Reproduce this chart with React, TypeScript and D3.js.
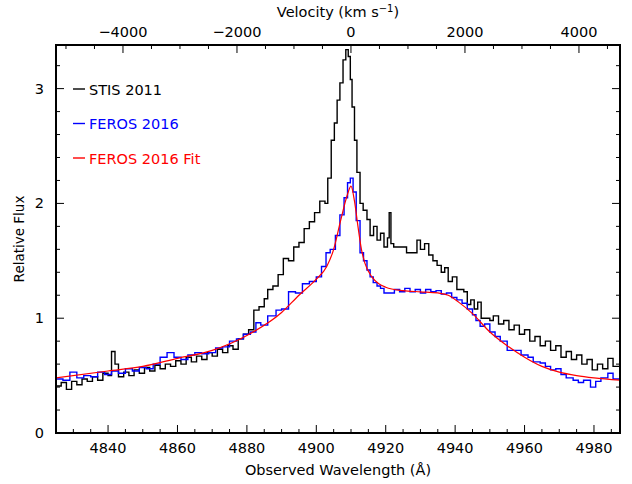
import * as d3 from "d3";

const W = 632;
const H = 484;
const margin = { left: 56, right: 12, top: 45, bottom: 51 };

const lamDomain: [number, number] = [4825, 4987.5];
const velDomain: [number, number] = [-5175, 4720];
const fluxDomain: [number, number] = [0, 3.38];

const xTicks = [4840, 4860, 4880, 4900, 4920, 4940, 4960, 4980];
const vTicks = [-4000, -2000, 0, 2000, 4000];
const yTicks = [0, 1, 2, 3];

// STIS 2011 [wavelength, flux]
const stis: [number, number][] = [
  [4825, 0.41], [4826.5, 0.44], [4828, 0.38], [4829.5, 0.45], [4831, 0.42], [4832.5, 0.47],
  [4834, 0.45], [4835.5, 0.49], [4837, 0.46], [4838.5, 0.52], [4840, 0.5], [4841, 0.71],
  [4842, 0.6], [4843, 0.49], [4844.5, 0.53], [4846, 0.5], [4847.5, 0.55], [4849, 0.52],
  [4850.5, 0.57], [4852, 0.54], [4853.5, 0.59], [4855, 0.56], [4856.5, 0.6], [4858, 0.58],
  [4859.5, 0.63], [4861, 0.6], [4862.5, 0.66], [4864, 0.62], [4865.5, 0.67], [4867, 0.64],
  [4868.5, 0.7], [4870, 0.67], [4871.5, 0.73], [4873, 0.7], [4874.5, 0.76], [4876, 0.73],
  [4877.5, 0.82], [4879, 0.86], [4880.5, 0.9], [4882, 1.07], [4883.5, 1.1], [4885, 1.17],
  [4886, 1.25], [4887.5, 1.28], [4889, 1.38], [4890.5, 1.52], [4892, 1.5], [4893.5, 1.62],
  [4895, 1.66], [4896.5, 1.78], [4898, 1.84], [4899.5, 1.92], [4901, 2.02], [4902.5, 2.0],
  [4903.3, 2.22], [4904.3, 2.55], [4905.2, 2.7], [4906, 2.9], [4906.8, 3.05], [4907.7, 3.25],
  [4908.5, 3.34], [4909.2, 3.28], [4909.8, 3.08], [4910.3, 2.84], [4911, 2.55], [4911.7, 2.27],
  [4912.6, 2.0], [4913.5, 1.94], [4914.6, 1.86], [4915.5, 1.72], [4916.5, 1.8], [4917.5, 1.68],
  [4918.5, 1.74], [4919.5, 1.62], [4920.5, 1.7], [4921, 1.92], [4921.5, 1.65], [4922.3, 1.62],
  [4926, 1.57], [4929, 1.68], [4930, 1.6], [4931.2, 1.65], [4932.4, 1.55], [4933.6, 1.5],
  [4934.8, 1.46], [4936, 1.4], [4937, 1.44], [4938, 1.32], [4939.2, 1.36], [4940.5, 1.25],
  [4942.5, 1.23], [4943.5, 1.12], [4944.5, 1.16], [4945.5, 1.08], [4946.5, 1.14], [4947.5, 1.0],
  [4950, 0.98], [4951, 1.02], [4952.5, 0.95], [4954, 0.98], [4955.5, 0.9], [4957, 0.94],
  [4958.5, 0.86], [4960, 0.9], [4961.5, 0.8], [4963, 0.84], [4964.5, 0.76], [4966, 0.8],
  [4967.5, 0.72], [4969, 0.76], [4970.5, 0.66], [4972, 0.71], [4973.5, 0.64], [4975, 0.68],
  [4976.5, 0.6], [4978, 0.64], [4979.5, 0.55], [4981, 0.6], [4982.5, 0.56], [4984, 0.65],
  [4985.5, 0.58], [4987.5, 0.61],
];

// FEROS 2016 [wavelength, flux]
const feros: [number, number][] = [
  [4825, 0.47], [4827, 0.46], [4829, 0.53], [4831, 0.48], [4833, 0.5], [4835, 0.49],
  [4837, 0.53], [4839, 0.51], [4841, 0.54], [4843, 0.52], [4845, 0.56], [4847, 0.54],
  [4849, 0.57], [4851, 0.56], [4853, 0.6], [4855, 0.66], [4857, 0.7], [4859, 0.66],
  [4861, 0.64], [4863, 0.68], [4865, 0.7], [4867, 0.69], [4869, 0.7], [4871, 0.74],
  [4873, 0.75], [4875, 0.8], [4877, 0.82], [4879, 0.86], [4881, 0.88], [4882.6, 0.96],
  [4884, 0.94], [4886, 1.02], [4888.4, 1.07], [4890, 1.08], [4892, 1.23], [4894, 1.22],
  [4896, 1.3], [4898, 1.32], [4900, 1.36], [4901.5, 1.45], [4902.8, 1.57], [4904, 1.6],
  [4905.5, 1.72], [4906.8, 1.9], [4908, 2.05], [4909, 2.18], [4909.8, 2.22], [4910.6, 2.1],
  [4911.5, 1.85], [4912.6, 1.57], [4913.6, 1.5], [4914.6, 1.42], [4915.5, 1.36], [4916.4, 1.31],
  [4917.5, 1.28], [4918.5, 1.26], [4919.5, 1.22], [4921, 1.22], [4922.5, 1.25], [4924, 1.23],
  [4925.5, 1.26], [4927, 1.23], [4928.5, 1.25], [4930, 1.22], [4931.5, 1.25], [4933, 1.23],
  [4934.5, 1.24], [4936, 1.21], [4937.5, 1.22], [4939, 1.18], [4940.5, 1.16], [4942, 1.13],
  [4943.5, 1.08], [4945, 1.03], [4946, 0.98], [4947.2, 0.93], [4948.5, 0.95], [4950, 0.88],
  [4951.5, 0.84], [4953, 0.8], [4955, 0.72], [4957, 0.72], [4959, 0.68], [4961, 0.66],
  [4962.5, 0.62], [4964.5, 0.61], [4966, 0.58], [4967.5, 0.55], [4969, 0.56], [4970.5, 0.51],
  [4972, 0.48], [4974, 0.46], [4975.5, 0.44], [4977, 0.46], [4979, 0.4], [4980.5, 0.45],
  [4982, 0.48], [4984, 0.52], [4985.5, 0.47], [4987.5, 0.5],
];

// FEROS 2016 fit [wavelength, flux]
const fit: [number, number][] = [
  [4825, 0.48], [4840, 0.54], [4850, 0.58], [4860, 0.65], [4870, 0.72], [4880, 0.85],
  [4890, 1.05], [4895, 1.2], [4900, 1.34], [4903, 1.45], [4905, 1.6], [4907, 1.85],
  [4909, 2.08], [4910, 2.15], [4911, 2.02], [4912, 1.8], [4913, 1.6], [4914, 1.48],
  [4916, 1.36], [4918, 1.3], [4920, 1.27], [4925, 1.24], [4930, 1.23], [4935, 1.22],
  [4938, 1.2], [4941, 1.14], [4945, 1.04], [4950, 0.88], [4955, 0.76], [4960, 0.66],
  [4965, 0.58], [4970, 0.53], [4975, 0.5], [4980, 0.48], [4987.5, 0.46],
];

const legendItems = [
  { label: "STIS 2011", color: "#000000" },
  { label: "FEROS 2016", color: "#0000ff" },
  { label: "FEROS 2016 Fit", color: "#ff0000" },
];

export default function App() {
  const iw = W - margin.left - margin.right;
  const ih = H - margin.top - margin.bottom;
  const x = d3.scaleLinear().domain(lamDomain).range([0, iw]);
  const xv = d3.scaleLinear().domain(velDomain).range([0, iw]);
  const y = d3.scaleLinear().domain(fluxDomain).range([ih, 0]);

  const step = d3.line<[number, number]>().x((d) => x(d[0])).y((d) => y(d[1])).curve(d3.curveStepAfter);
  const smooth = d3.line<[number, number]>().x((d) => x(d[0])).y((d) => y(d[1])).curve(d3.curveMonotoneX);

  const xMinor = d3.range(4830, 4987, 5);
  const vMinor = d3.range(-5000, 4721, 500);
  const yMinor = d3.range(0, 3.38, 0.2);
  const font = "DejaVu Sans, sans-serif";

  return (
    <svg width={W} height={H} style={{ position: "absolute", left: 0, top: 0, background: "#fff" }} fontFamily={font}>
      <g transform={`translate(${margin.left},${margin.top})`}>
        <defs>
          <clipPath id="clip">
            <rect width={iw} height={ih} />
          </clipPath>
        </defs>
        <g clipPath="url(#clip)" fill="none">
          <path d={step(stis) ?? ""} stroke="#000" strokeWidth={1.4} />
          <path d={step(feros) ?? ""} stroke="#0000ff" strokeWidth={1.4} />
          <path d={smooth(fit) ?? ""} stroke="#ff0000" strokeWidth={1.2} />
        </g>

        {/* ticks */}
        <g stroke="#000" strokeWidth={1}>
          {xMinor.map((t) => {
            const l = xTicks.includes(t) ? 8 : 4;
            return <line key={`x${t}`} x1={x(t)} x2={x(t)} y1={ih} y2={ih - l} />;
          })}
          {vMinor.map((t) => {
            const l = vTicks.includes(t) ? 8 : 4;
            return <line key={`v${t}`} x1={xv(t)} x2={xv(t)} y1={0} y2={l} />;
          })}
          {yMinor.map((t) => {
            const major = Math.abs(t - Math.round(t)) < 1e-6;
            const l = major ? 8 : 4;
            return (
              <g key={`y${t.toFixed(1)}`}>
                <line x1={0} x2={l} y1={y(t)} y2={y(t)} />
                <line x1={iw} x2={iw - l} y1={y(t)} y2={y(t)} />
              </g>
            );
          })}
        </g>
        <rect width={iw} height={ih} fill="none" stroke="#000" strokeWidth={2} />

        {/* tick labels */}
        <g fontSize={14.5} fill="#000">
          {xTicks.map((t) => (
            <text key={t} x={x(t)} y={ih + 20} textAnchor="middle">{t}</text>
          ))}
          {vTicks.map((t) => (
            <text key={t} x={xv(t)} y={-8} textAnchor="middle">{t < 0 ? `\u2212${-t}` : t}</text>
          ))}
          {yTicks.map((t) => (
            <text key={t} x={-12} y={y(t) + 5} textAnchor="end">{t}</text>
          ))}
        </g>

        <text x={iw / 2} y={ih + 42} textAnchor="middle" fontSize={14.5}>Observed Wavelength (Å)</text>
        <text x={iw / 2} y={-28} textAnchor="middle" fontSize={14.5}>
          Velocity (km s<tspan dy={-5} fontSize={10}>−1</tspan><tspan dy={5}>)</tspan>
        </text>
        <text transform={`translate(${-32},${ih / 2}) rotate(-90)`} textAnchor="middle" fontSize={13.5}>Relative Flux</text>

        {/* legend */}
        {legendItems.map((it, i) => {
          const ly = 44 + i * 34.5;
          return (
            <g key={it.label}>
              <line x1={17} x2={29} y1={ly} y2={ly} stroke={it.color} strokeWidth={1.4} />
              <text x={33} y={ly + 5.5} fill={it.color} fontSize={14.5}>{it.label}</text>
            </g>
          );
        })}
      </g>
    </svg>
  );
}
